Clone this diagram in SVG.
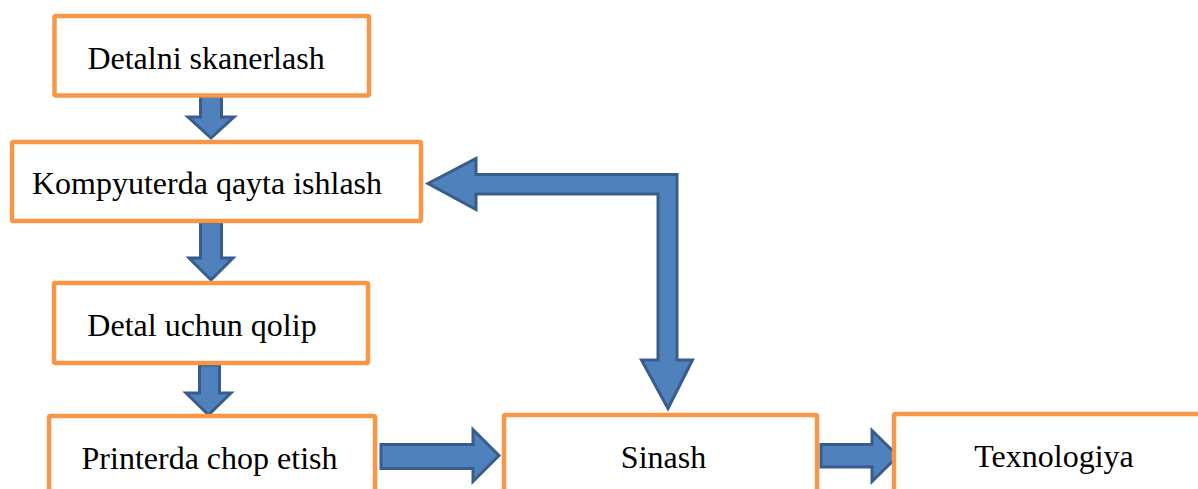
<svg xmlns="http://www.w3.org/2000/svg" width="1198" height="489" viewBox="0 0 1198 489">
  <style>
    .box { fill: #ffffff; stroke: #F79646; stroke-width: 4.5; }
    .lbl { font-family: "Liberation Serif", "Times New Roman", serif; font-size: 32px; fill: #000000; text-anchor: middle; }
    .arr { fill: #4F81BD; stroke: #385D8A; stroke-width: 3; stroke-linejoin: miter; }
  </style>
  <rect width="1198" height="489" fill="#ffffff"/>

  <g id="connectors">
    <path class="arr" d="M200.5,96 H221.5 V117 H234 L211,138 L188,117 H200.5 Z"/>
    <path class="arr" d="M200.5,222 H221.5 V258 H233 L211,280 L189,258 H200.5 Z"/>
    <path class="arr" d="M199.5,365 H219.5 V393 H231 L208.5,415 L186,393 H199.5 Z"/>
    <path class="arr" d="M381,444.5 H473 V429.5 L499,455.5 L473,481.5 V468.5 H381 Z"/>
    <path class="arr" d="M821,444.5 H872 V430.5 L898,456 L872,481.5 V467 H821 Z"/>
    <path class="arr" d="M428,183.5 L476,158.5 V174.5 H677 V360 H692.5 L668,408.5 L641.5,360 H658 V194 H476 V209.5 Z"/>
  </g>

  <g id="node-skan">
    <rect class="box" x="54.5" y="16" width="314.5" height="79.5" rx="1.5"/>
    <text class="lbl" x="206" y="69">Detalni skanerlash</text>
  </g>
  <g id="node-kompyuter">
    <rect class="box" x="12" y="142" width="409" height="79" rx="1.5"/>
    <text class="lbl" x="207" y="194">Kompyuterda qayta ishlash</text>
  </g>
  <g id="node-qolip">
    <rect class="box" x="54" y="283" width="314" height="80" rx="1.5"/>
    <text class="lbl" x="202" y="336">Detal uchun qolip</text>
  </g>
  <g id="node-printer">
    <rect class="box" x="49" y="416" width="326" height="100" rx="1.5"/>
    <text class="lbl" x="209.5" y="469">Printerda chop etish</text>
  </g>
  <g id="node-sinash">
    <rect class="box" x="504" y="415" width="313" height="100" rx="1.5"/>
    <text class="lbl" x="663.5" y="468">Sinash</text>
  </g>
  <g id="node-texnologiya">
    <rect class="box" x="894" y="414" width="330" height="100" rx="1.5"/>
    <text class="lbl" x="1054" y="467">Texnologiya</text>
  </g>
</svg>
